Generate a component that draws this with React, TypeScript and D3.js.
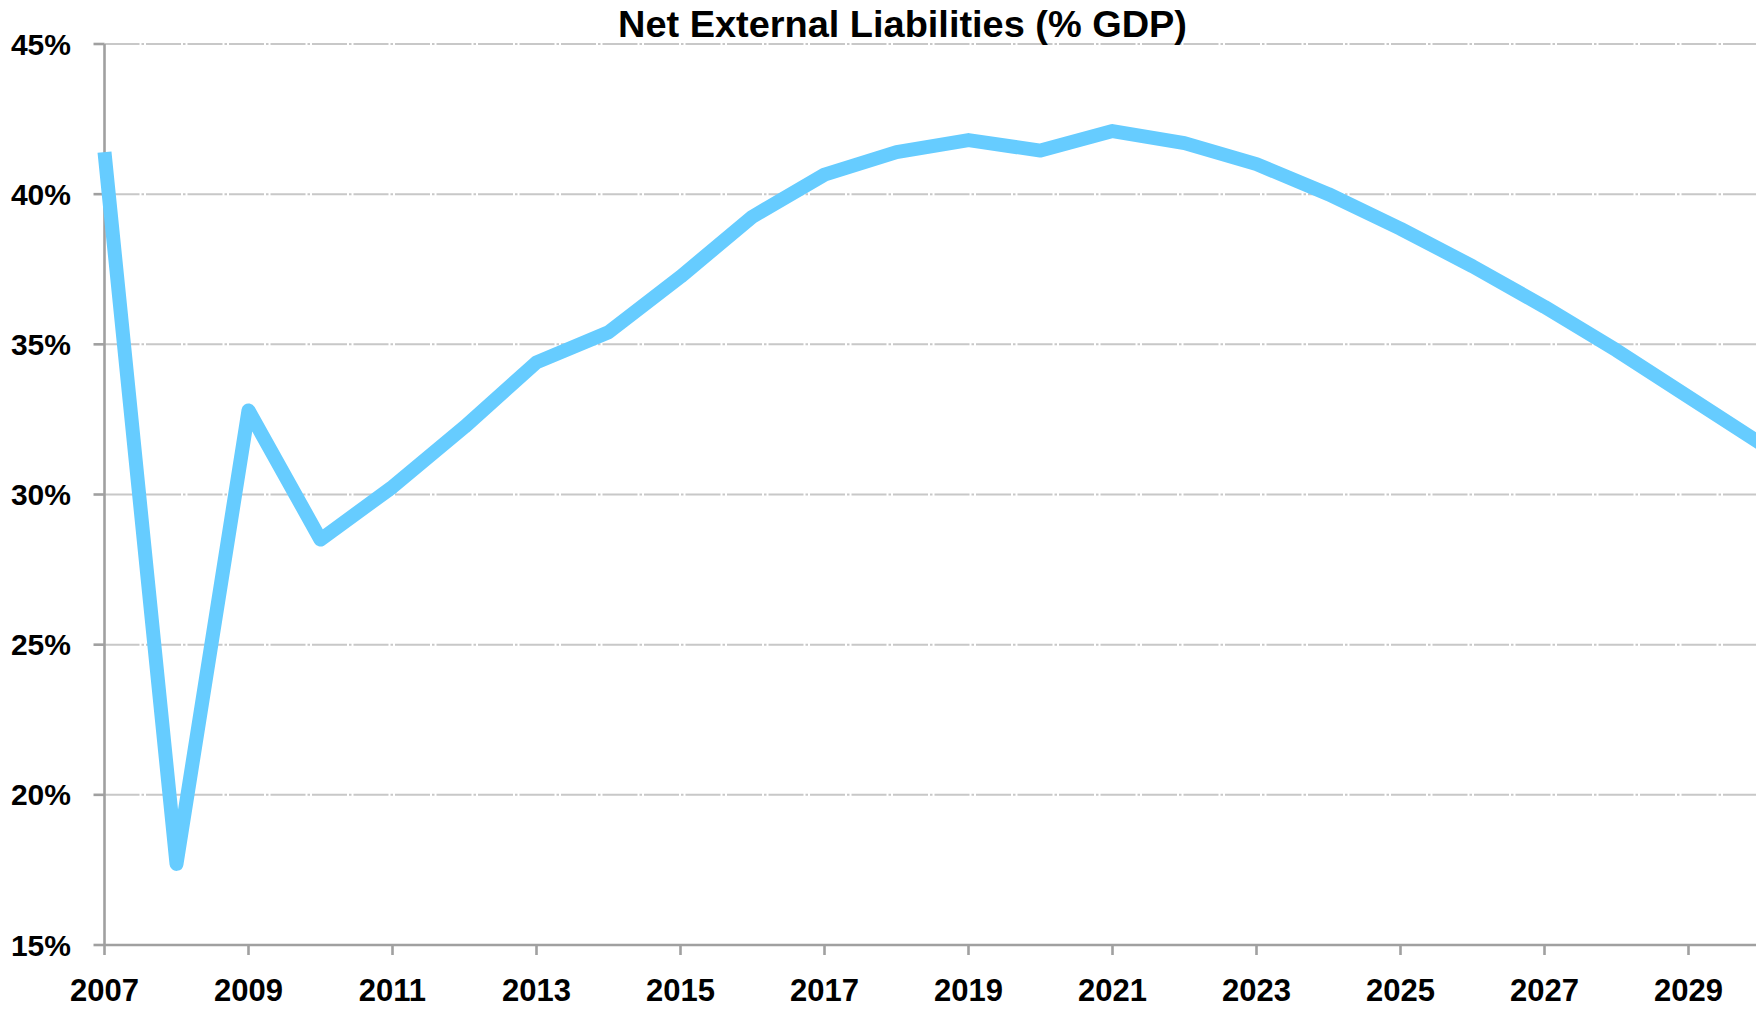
import React from 'react';
import * as d3 from 'd3';

// Net external liabilities, % of GDP
const years = [
  2007, 2008, 2009, 2010, 2011, 2012, 2013, 2014, 2015, 2016, 2017, 2018,
  2019, 2020, 2021, 2022, 2023, 2024, 2025, 2026, 2027, 2028, 2029, 2030,
];
const liabilities = [
  41.4, 17.7, 32.8, 28.5, 30.25, 32.25, 34.4, 35.4, 37.25, 39.25, 40.65, 41.4,
  41.8, 41.45, 42.1, 41.7, 41.0, 40.0, 38.85, 37.6, 36.25, 34.8, 33.25, 31.7,
];
const yTicks = [15, 20, 25, 30, 35, 40, 45];
const xTickYears = [2007, 2009, 2011, 2013, 2015, 2017, 2019, 2021, 2023, 2025, 2027, 2029];
const title = 'Net External Liabilities (% GDP)';

const W = 1756;
const H = 1009;
const FONT = 'Arial, "Liberation Sans", sans-serif';

export default function App() {
  // one year is ~72px, 2030 falls just past the right edge
  const x = d3.scaleLinear().domain([2007, 2030]).range([104.5, 1760.5]);
  const y = d3.scaleLinear().domain([15, 45]).range([945, 44]);

  const points: [number, number][] = years.map((yr, i) => [yr, liabilities[i]]);
  const line = d3
    .line<[number, number]>()
    .x(d => x(d[0]))
    .y(d => y(d[1]));

  const left = x(2007);

  return (
    <svg
      width={W}
      height={H}
      style={{ position: 'absolute', left: 0, top: 0, background: '#fff' }}
      fontFamily={FONT}
    >
      {/* horizontal grid */}
      {yTicks.filter(t => t !== 15).map(t => (
        <line
          key={'g' + t}
          x1={left}
          x2={W}
          y1={y(t)}
          y2={y(t)}
          stroke="#c8c8c8"
          strokeWidth={2}
          strokeDasharray="35 2 2.5 2"
        />
      ))}

      {/* axes */}
      <line x1={left} x2={left} y1={y(45)} y2={y(15)} stroke="#a0a0a0" strokeWidth={2.6} />
      <line x1={left} x2={W} y1={y(15)} y2={y(15)} stroke="#a0a0a0" strokeWidth={2.6} />

      {yTicks.map(t => (
        <g key={'y' + t}>
          <line x1={left - 11} x2={left} y1={y(t)} y2={y(t)} stroke="#a0a0a0" strokeWidth={2.6} />
          <text
            x={71}
            y={y(t)}
            textAnchor="end"
            dominantBaseline="central"
            fontSize={30}
            fontWeight="bold"
            fill="#000"
          >
            {t}%
          </text>
        </g>
      ))}

      {xTickYears.map(yr => (
        <g key={'x' + yr}>
          <line x1={x(yr)} x2={x(yr)} y1={y(15)} y2={y(15) + 10} stroke="#a0a0a0" strokeWidth={2.6} />
          <text x={x(yr)} y={1001} textAnchor="middle" fontSize={31} fontWeight="bold" fill="#000">
            {yr}
          </text>
        </g>
      ))}

      {/* series */}
      <path
        d={line(points) || ''}
        fill="none"
        stroke="#66ccff"
        strokeWidth={14}
        strokeLinejoin="round"
        strokeLinecap="butt"
      />

      <text
        x={902.5}
        y={37}
        textAnchor="middle"
        fontSize={36}
        fontWeight="bold"
        fill="#000"
        textLength={569}
        lengthAdjust="spacingAndGlyphs"
      >
        {title}
      </text>
    </svg>
  );
}
